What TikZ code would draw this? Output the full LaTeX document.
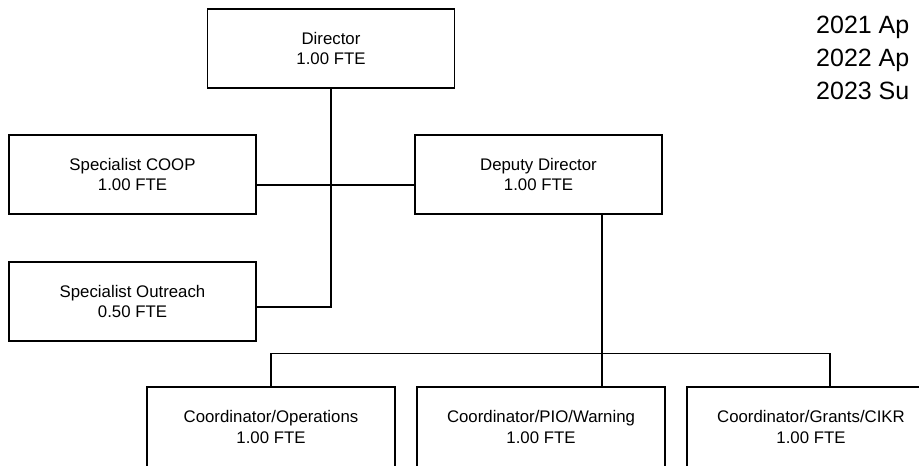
\documentclass[tikz,border=0pt]{standalone}
\usepackage{fontspec}
\setmainfont{Liberation Sans}
\usetikzlibrary{calc}
\begin{document}
\begin{tikzpicture}[x=1pt,y=-1pt,
  unit/.style={draw=black, line width=1.1pt, fill=white, minimum width=247pt,
    minimum height=79pt, align=center, inner sep=0pt,
    font=\fontsize{16.8}{20.5}\selectfont},
  link/.style={draw=black, line width=1.1pt},
  note/.style={anchor=base west, inner sep=0pt, font=\fontsize{25}{30}\selectfont}]
\useasboundingbox (0,0) rectangle (919,466);

% staff positions
\node[unit] (dir)  at (331,48.5)   {Director\\1.00 FTE};
\node[unit] (coop) at (132.5,174.5) {Specialist COOP\\1.00 FTE};
\node[unit] (dep)  at (538.5,174.5) {Deputy Director\\1.00 FTE};
\node[unit] (out)  at (132.5,301.5) {Specialist Outreach\\0.50 FTE};
\node[unit, minimum width=248pt, minimum height=80pt] (ops)  at (271,427) {Coordinator/Operations\\1.00 FTE};
\node[unit, minimum width=248pt, minimum height=80pt] (pio)  at (541,427) {Coordinator/PIO/Warning\\1.00 FTE};
\node[unit, minimum width=248pt, minimum height=80pt] (cikr) at (811,427) {Coordinator/Grants/CIKR\\1.00 FTE};

% budget years
\node[note] (y1) at (816,33) {2021 Ap};
\node[note] (y2) at (816,66) {2022 Ap};
\node[note] (y3) at (816,99) {2023 Su};

% reporting lines
\coordinate (bus) at ($(ops.north)+(0,-33)$);
\coordinate (ck)  at ($(cikr.north)+(19,0)$);
\draw[link] (dir.south) |- ($(out.east)+(0,5.5)$);
\draw[link] ($(coop.east)+(0,10.5)$) -- ($(dep.west)+(0,10.5)$);
\draw[link] ($(dep.south)+(63.5,0)$) -- ($(pio.north)+(61,0)$);
\draw[link] (ops.north) -- (ops.north |- bus) -- (ck |- bus) -- (ck);
\end{tikzpicture}
\end{document}
